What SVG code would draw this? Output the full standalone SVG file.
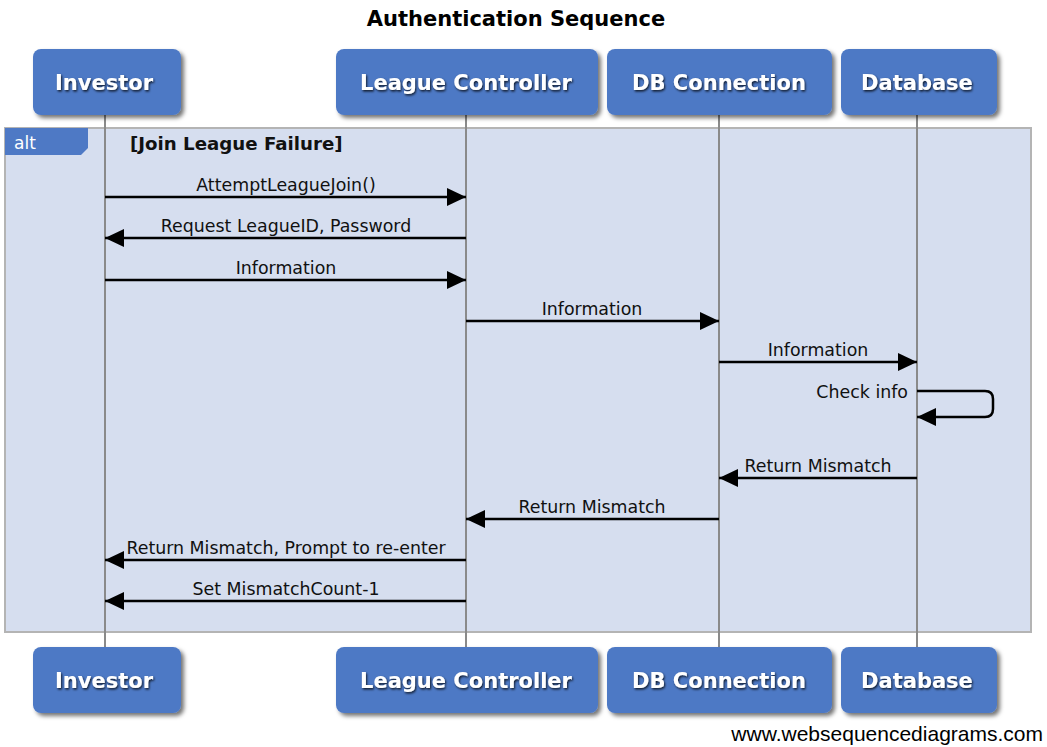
<svg xmlns="http://www.w3.org/2000/svg" width="1047" height="747" viewBox="0 0 1047 747">
  <style>
    .box { fill: #4e79c5; filter: url(#boxShadow); }
    .boxText { font-family: "DejaVu Sans", Verdana, sans-serif; font-weight: bold; font-size: 21px; fill: #ffffff; text-anchor: middle; filter: url(#textShadow); }
    .life { stroke: #8a8a8a; stroke-width: 2; }
    .msg { stroke: #000000; stroke-width: 2.5; fill: none; marker-end: url(#arrow); }
    .msgText { font-family: "DejaVu Sans", Verdana, sans-serif; font-size: 17.4px; fill: #111111; text-anchor: middle; }
    .msgText.right { text-anchor: end; }
    .title { font-family: "DejaVu Sans", Verdana, sans-serif; font-weight: bold; font-size: 21px; fill: #000000; text-anchor: middle; }
  </style>
  <defs>
    <filter id="boxShadow" x="-10%" y="-10%" width="130%" height="140%">
      <feDropShadow dx="3" dy="3" stdDeviation="2" flood-color="#000000" flood-opacity="0.55"/>
    </filter>
    <filter id="textShadow" x="-10%" y="-20%" width="130%" height="160%">
      <feDropShadow dx="1" dy="1.5" stdDeviation="1" flood-color="#000000" flood-opacity="0.8"/>
    </filter>
    <marker id="arrow" markerUnits="userSpaceOnUse" markerWidth="20" markerHeight="20" refX="19" refY="9" orient="auto">
      <path d="M0,0 L19,9 L0,18 Z" fill="#000000"/>
    </marker>
  </defs>

  <rect width="1047" height="747" fill="#ffffff"/>

  <text class="title" x="516" y="26">Authentication Sequence</text>

  <!-- alt fragment -->
  <g id="alt-fragment">
    <rect x="5" y="128" width="1026" height="504" fill="#d6deef" stroke="#b4b4b4" stroke-width="2"/>
    <path d="M5,128 H88 V148 L81,155 H5 Z" fill="#4e79c5"/>
    <text x="14" y="149" font-family="DejaVu Sans, Verdana, sans-serif" font-size="17px" fill="#ffffff">alt</text>
    <text x="130" y="150" font-family="DejaVu Sans, Verdana, sans-serif" font-weight="bold" font-size="18.2px" fill="#111111">[Join League Failure]</text>
  </g>

  <!-- lifelines -->
  <g id="lifelines">
    <line class="life" x1="105" y1="115" x2="105" y2="647"/>
    <line class="life" x1="466" y1="115" x2="466" y2="647"/>
    <line class="life" x1="719" y1="115" x2="719" y2="647"/>
    <line class="life" x1="917" y1="115" x2="917" y2="647"/>
  </g>

  <!-- participants, top -->
  <g id="investor-top">
    <rect class="box" x="33" y="49" width="148" height="66" rx="8"/>
    <text class="boxText" x="104" y="90">Investor</text>
  </g>
  <g id="league-controller-top">
    <rect class="box" x="336" y="49" width="262" height="66" rx="8"/>
    <text class="boxText" x="466" y="90">League Controller</text>
  </g>
  <g id="db-connection-top">
    <rect class="box" x="607" y="49" width="225" height="66" rx="8"/>
    <text class="boxText" x="719" y="90">DB Connection</text>
  </g>
  <g id="database-top">
    <rect class="box" x="841" y="49" width="156" height="66" rx="8"/>
    <text class="boxText" x="917" y="90">Database</text>
  </g>

  <!-- participants, bottom -->
  <g id="investor-bottom">
    <rect class="box" x="33" y="647" width="148" height="66" rx="8"/>
    <text class="boxText" x="104" y="688">Investor</text>
  </g>
  <g id="league-controller-bottom">
    <rect class="box" x="336" y="647" width="262" height="66" rx="8"/>
    <text class="boxText" x="466" y="688">League Controller</text>
  </g>
  <g id="db-connection-bottom">
    <rect class="box" x="607" y="647" width="225" height="66" rx="8"/>
    <text class="boxText" x="719" y="688">DB Connection</text>
  </g>
  <g id="database-bottom">
    <rect class="box" x="841" y="647" width="156" height="66" rx="8"/>
    <text class="boxText" x="917" y="688">Database</text>
  </g>

  <!-- messages -->
  <g id="connectors">
    <line class="msg" x1="105" y1="197" x2="466" y2="197"/>
    <text class="msgText" x="286" y="191">AttemptLeagueJoin()</text>

    <line class="msg" x1="466" y1="238" x2="105" y2="238"/>
    <text class="msgText" x="286" y="232">Request LeagueID, Password</text>

    <line class="msg" x1="105" y1="280" x2="466" y2="280"/>
    <text class="msgText" x="286" y="274">Information</text>

    <line class="msg" x1="466" y1="321" x2="719" y2="321"/>
    <text class="msgText" x="592" y="315">Information</text>

    <line class="msg" x1="719" y1="362" x2="917" y2="362"/>
    <text class="msgText" x="818" y="356">Information</text>

    <path class="msg" d="M917,391 H985 Q993,391 993,399 V409 Q993,417 985,417 H917"/>
    <text class="msgText right" x="908" y="398">Check info</text>

    <line class="msg" x1="917" y1="478" x2="719" y2="478"/>
    <text class="msgText" x="818" y="472">Return Mismatch</text>

    <line class="msg" x1="719" y1="519" x2="466" y2="519"/>
    <text class="msgText" x="592" y="513">Return Mismatch</text>

    <line class="msg" x1="466" y1="560" x2="105" y2="560"/>
    <text class="msgText" x="286" y="554">Return Mismatch, Prompt to re-enter</text>

    <line class="msg" x1="466" y1="601" x2="105" y2="601"/>
    <text class="msgText" x="286" y="595">Set MismatchCount-1</text>
  </g>

  <text x="1043" y="741" font-family="Liberation Sans, Arial, sans-serif" font-size="21px" fill="#000000" text-anchor="end">www.websequencediagrams.com</text>
</svg>
